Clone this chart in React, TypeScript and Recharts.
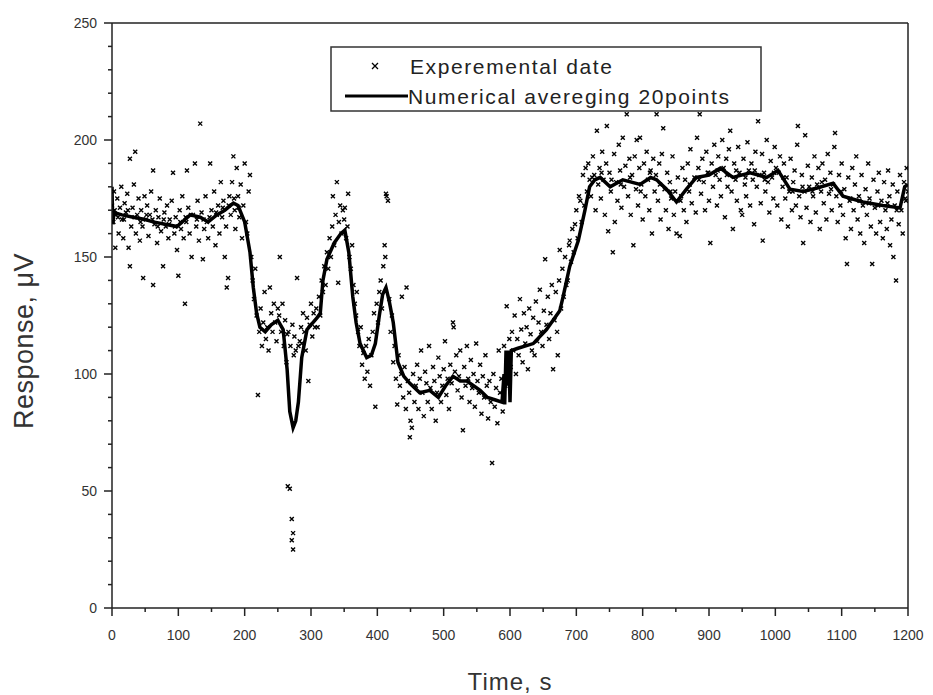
import React from "react";
import {
  ComposedChart,
  XAxis,
  YAxis,
  Scatter,
  Line,
  ReferenceLine,
  Legend,
} from "recharts";

// Experimental data: [time s, response µV]
const expSegment1: [number, number][] = [
  [0, 172], [2, 165], [3, 178], [5, 154], [6, 168], [8, 175], [10, 160], [12, 171], [14, 180], [15, 166],
  [17, 158], [19, 173], [21, 169], [23, 177], [25, 154], [27, 192], [27, 146], [29, 163], [31, 171], [33, 181],
  [35, 195], [36, 160], [38, 168], [40, 175], [42, 157], [44, 170], [46, 163], [47, 141], [49, 176], [51, 166],
  [53, 172], [55, 159], [57, 168], [59, 178], [62, 187], [62, 138], [64, 164], [66, 170], [68, 156], [70, 167],
  [72, 175], [74, 161], [77, 146], [79, 169], [81, 163], [83, 172], [85, 158], [87, 166], [90, 174], [92, 186],
  [94, 160], [96, 167], [98, 153], [100, 142], [102, 170], [104, 162], [106, 176], [108, 158], [110, 130], [112, 165],
  [113, 187], [115, 171], [117, 160], [120, 150], [122, 168], [125, 190], [127, 163], [129, 174], [131, 157], [133, 207],
  [135, 169], [137, 149], [139, 162], [141, 176], [143, 165], [145, 158], [148, 190], [150, 170], [152, 163], [154, 178],
  [156, 155], [158, 168], [160, 172], [162, 160], [164, 182], [166, 167], [168, 174], [170, 150], [172, 163], [173, 137],
  [175, 141], [177, 176], [179, 168], [181, 182], [183, 193], [185, 170], [186, 162], [188, 188], [190, 176], [192, 167],
  [194, 181], [196, 158], [198, 172], [200, 190], [202, 165], [204, 160], [206, 178], [208, 185], [210, 150], [212, 140],
  [4, 170], [9, 167], [18, 166], [24, 170], [34, 167], [43, 165], [52, 168], [61, 166], [69, 163], [78, 166],
  [86, 164], [95, 163], [103, 165], [111, 167], [119, 168], [128, 166], [138, 166], [147, 167], [157, 169], [167, 171],
  [176, 172], [184, 175], [191, 171],
];

const expSegment2: [number, number][] = [
  [214, 132], [216, 145], [218, 125], [220, 91], [222, 118], [224, 128], [226, 112], [228, 122], [230, 135], [232, 115],
  [234, 120], [236, 110], [238, 137], [240, 126], [242, 118], [244, 130], [246, 122], [248, 114], [250, 128], [252, 125],
  [253, 150], [255, 118], [257, 130], [259, 112], [261, 123], [263, 105], [264, 117], [265, 52], [266, 118], [268, 51],
  [269, 112], [271, 38], [271, 29], [272, 121], [273, 32], [273, 25], [274, 108], [275, 116], [277, 110], [279, 141],
  [281, 112], [283, 114], [285, 120], [286, 113], [288, 126], [290, 118], [292, 110], [294, 124], [296, 97], [298, 121],
  [300, 130], [302, 116], [304, 126], [306, 120],
];

const expSegment3: [number, number][] = [
  [308, 128], [310, 120], [312, 133], [314, 125], [316, 140], [318, 135], [320, 146], [322, 138], [324, 152], [326, 145],
  [328, 158], [330, 150], [332, 163], [333, 176], [335, 155], [337, 168], [339, 182], [341, 139], [342, 165], [344, 172],
  [346, 160], [348, 170], [350, 166], [351, 171], [353, 158], [355, 163], [356, 177], [358, 150], [360, 145], [362, 155],
  [364, 138], [366, 130], [368, 125], [369, 135], [371, 118], [373, 112], [375, 120], [377, 104], [379, 109], [381, 98],
  [383, 112], [385, 101], [387, 115], [389, 95], [391, 108], [393, 118], [395, 126], [397, 86], [399, 130], [401, 122],
  [403, 135], [405, 140], [407, 128], [409, 146], [411, 155], [412, 150], [413, 177], [414, 176], [416, 174], [418, 132],
  [420, 118], [422, 125], [424, 105], [426, 112], [428, 98], [430, 87], [432, 108], [434, 95], [436, 100], [437, 133],
  [439, 90], [441, 103], [443, 85], [444, 137], [446, 97], [448, 92], [449, 73], [450, 80], [452, 77],
];

const expSegment4: [number, number][] = [
  [454, 100], [456, 88], [458, 95], [460, 104], [462, 85], [464, 98], [466, 110], [468, 92], [470, 82], [472, 101],
  [474, 96], [476, 88], [478, 112], [480, 94], [482, 85], [484, 103], [486, 97], [488, 80], [490, 92], [492, 107],
  [494, 99], [496, 88], [498, 95], [500, 102], [502, 114], [504, 91], [506, 98], [508, 85], [510, 104], [512, 96],
  [514, 122], [515, 120], [517, 101], [519, 108], [521, 93], [523, 99], [525, 110], [527, 90], [529, 76], [531, 103],
  [533, 95], [535, 112], [537, 98], [539, 88], [541, 106], [543, 94], [545, 100], [547, 86], [549, 113], [551, 97],
  [553, 92], [555, 104], [557, 83], [559, 99], [561, 90], [563, 108], [565, 95], [567, 81], [569, 97], [571, 88],
  [573, 62], [575, 100], [577, 86], [579, 94], [581, 79], [583, 110], [585, 92], [587, 98], [589, 84], [591, 112],
  [593, 95], [595, 129], [597, 106], [599, 115],
];

const expSegment5: [number, number][] = [
  [601, 103], [603, 118], [605, 110], [607, 125], [609, 100], [611, 115], [613, 108], [615, 132], [617, 119], [619, 105],
  [621, 126], [623, 113], [625, 120], [627, 102], [629, 128], [631, 117], [633, 110], [635, 124], [637, 108], [639, 131],
  [641, 114], [643, 122], [645, 136], [647, 118], [649, 112], [651, 127], [653, 149], [655, 121], [657, 133], [659, 115],
  [661, 126], [663, 138], [665, 102], [667, 123], [669, 135], [671, 118], [672, 108], [674, 140], [675, 153], [677, 128],
  [679, 145], [681, 133], [683, 150], [685, 138], [687, 140], [689, 155], [690, 157], [692, 148], [694, 162], [696, 152],
  [698, 164], [700, 170], [702, 158], [704, 176], [706, 174], [708, 165], [710, 185], [712, 172], [714, 188], [716, 178],
  [718, 190], [720, 183],
];

const expSegment6: [number, number][] = [
  [722, 176], [725, 193], [727, 185], [729, 170], [731, 204], [733, 181], [735, 188], [737, 175], [739, 195], [741, 183],
  [743, 168], [745, 190], [746, 206], [748, 161], [750, 186], [752, 178], [755, 152], [757, 194], [758, 165], [760, 182],
  [762, 174], [764, 198], [766, 187], [768, 171], [770, 201], [772, 180], [774, 189], [776, 211], [778, 176], [780, 192],
  [782, 168], [784, 185], [786, 155], [788, 193], [790, 179], [791, 200], [793, 172], [795, 188], [796, 201], [798, 181],
  [800, 166], [802, 190], [804, 176], [806, 195], [808, 183], [810, 170], [812, 187], [814, 160], [816, 192], [818, 178],
  [820, 185], [821, 211], [823, 174], [825, 190], [827, 166], [829, 194], [831, 205], [833, 179], [835, 170], [837, 186],
  [839, 162], [841, 182], [843, 175], [845, 193], [847, 168], [849, 178], [851, 160], [853, 184], [856, 159], [858, 176],
  [860, 188], [862, 170], [864, 183], [866, 165], [868, 190], [870, 178], [872, 196], [874, 173], [876, 214], [878, 184],
  [880, 169], [882, 201], [884, 188], [886, 211], [888, 177], [890, 192], [892, 182], [894, 170], [896, 195], [898, 186],
  [900, 174], [902, 156], [904, 190], [906, 180], [908, 198], [910, 185], [912, 172], [914, 193], [916, 183], [918, 176],
  [920, 200], [922, 188], [924, 167], [926, 192], [928, 180], [930, 196], [932, 204], [934, 178], [936, 162], [938, 190],
  [940, 183], [942, 174], [944, 197], [946, 186], [948, 170], [950, 168], [952, 192], [954, 181], [956, 176], [958, 199],
  [960, 187], [962, 172], [964, 190], [966, 183], [968, 164], [970, 195], [972, 180], [974, 208], [976, 185], [978, 173],
  [980, 194], [981, 157], [983, 186], [985, 178], [987, 200], [989, 182], [991, 169], [993, 191], [995, 184], [997, 175],
  [999, 197], [1001, 188], [1003, 172], [1005, 186], [1007, 193], [1009, 166], [1011, 180], [1013, 190], [1015, 175], [1017, 184],
  [1019, 163], [1021, 178], [1023, 192], [1025, 170], [1027, 182], [1029, 187], [1031, 172], [1033, 198], [1034, 206], [1036, 176],
  [1038, 167], [1040, 185], [1042, 156], [1044, 178], [1045, 202], [1047, 171], [1049, 189], [1051, 180], [1053, 165], [1055, 184],
  [1057, 176], [1059, 193], [1061, 169], [1063, 181], [1065, 188], [1067, 162], [1069, 178], [1071, 190], [1073, 173], [1075, 183],
  [1077, 166], [1079, 194], [1081, 177], [1083, 186], [1085, 170], [1087, 181], [1089, 197], [1090, 203], [1092, 176], [1094, 165],
  [1096, 185], [1098, 172], [1100, 190], [1102, 168], [1104, 179], [1106, 158], [1108, 147], [1110, 184], [1112, 174], [1114, 162],
  [1116, 188], [1118, 170], [1120, 181], [1122, 193], [1124, 166], [1126, 176], [1128, 160], [1130, 185], [1132, 172], [1134, 156],
  [1136, 179], [1138, 168], [1140, 190], [1142, 175], [1144, 163], [1146, 147], [1148, 183], [1150, 171], [1152, 160], [1154, 178],
  [1156, 186], [1158, 165], [1160, 174], [1162, 158], [1164, 182], [1166, 170], [1168, 162], [1170, 187], [1172, 176], [1173, 155],
  [1175, 166], [1177, 181], [1178, 150], [1180, 172], [1182, 140], [1184, 178], [1186, 164], [1188, 185], [1190, 170], [1192, 160],
  [1194, 182], [1196, 175], [1198, 188], [1200, 178],
  [724, 184], [738, 186], [753, 183], [767, 181], [781, 184], [797, 178], [811, 186], [826, 181], [842, 178], [857, 174],
  [871, 181], [885, 183], [899, 186], [913, 187], [927, 185], [941, 187], [955, 184], [969, 187], [984, 183], [998, 186],
  [1012, 184], [1026, 178], [1041, 180], [1056, 178], [1070, 182], [1084, 179], [1099, 178], [1113, 175], [1127, 174], [1141, 173],
  [1155, 172], [1169, 173], [1183, 170], [1197, 174],
];

// Numerical averaging over 20 points: [time s, response µV]
const averaged: [number, number][] = [
  [0, 180], [1, 164], [3, 169], [15, 168], [32, 167], [50, 166], [62, 165], [80, 164], [98, 163], [110, 166],
  [118, 168], [133, 167], [145, 165], [158, 168], [170, 170], [183, 173], [190, 172], [200, 165], [208, 152], [213, 137],
  [218, 126], [223, 120], [231, 118], [240, 121], [250, 123], [258, 119], [264, 102], [268, 84], [273, 77], [277, 80],
  [281, 88], [286, 107], [294, 119], [300, 121], [309, 124], [314, 126], [318, 140], [324, 149], [335, 156], [345, 160],
  [351, 161.5], [357, 152], [363, 133], [368, 122], [374, 113], [384, 107], [391, 108], [397, 113], [403, 125], [408, 134],
  [413, 137], [418, 131], [424, 122], [431, 105], [440, 99], [449, 96], [464, 92], [479, 93], [492, 90], [503, 95],
  [514, 99], [525, 97], [535, 97], [545, 95], [555, 93], [566, 90], [577, 89], [588, 88], [591, 100], [592, 87],
  [594, 110], [596, 95], [598, 110], [600, 88], [602, 110], [612, 111], [635, 113], [655, 119], [670, 125], [675, 127],
  [680, 133], [690, 146], [703, 157], [713, 170], [720, 180], [728, 183], [736, 184], [751, 180], [770, 183], [796, 181],
  [812, 184], [821, 183], [836, 179], [851, 173.5], [866, 179], [881, 184], [900, 185], [917, 188], [936, 184], [962, 186],
  [987, 184], [1004, 187], [1022, 179], [1042, 178], [1063, 179.5], [1087, 181.5], [1102, 176], [1132, 173.5], [1162, 172], [1188, 171],
  [1195, 180], [1200, 181],
];

const xTicks = [0, 50, 100, 150, 200, 250, 300, 350, 400, 450, 500, 550, 600, 650, 700, 750, 800, 850, 900, 950, 1000, 1050, 1100, 1150, 1200];
const yTicks = [0, 10, 20, 30, 40, 50, 60, 70, 80, 90, 100, 110, 120, 130, 140, 150, 160, 170, 180, 190, 200, 210, 220, 230, 240, 250];

const expLabel = "Experemental date";
const avgLabel = "Numerical avereging 20points";
const xTitle = "Time, s";
const yTitle = "Response, \u03bcV";

const expData = [
  ...expSegment1,
  ...expSegment2,
  ...expSegment3,
  ...expSegment4,
  ...expSegment5,
  ...expSegment6,
].map(([t, v]) => ({ t, v }));
const avgData = averaged.map(([t, v]) => ({ t, v }));

const FONT = "Arial, 'Liberation Sans', sans-serif";
const AXIS = "#222";

const XTick = (props: any) => {
  const { x, y, payload } = props;
  const major = payload.value % 100 === 0;
  return (
    <g>
      <line x1={x} x2={x} y1={y} y2={y + (major ? 8 : 4)} stroke={AXIS} strokeWidth={1.5} />
      {major && (
        <text x={x} y={y + 32} textAnchor="middle" fontSize={14} fill="#333" fontFamily={FONT}>
          {payload.value}
        </text>
      )}
    </g>
  );
};

const YTick = (props: any) => {
  const { x, y, payload } = props;
  const major = payload.value % 50 === 0;
  return (
    <g>
      <line x1={x - (major ? 8 : 4)} x2={x} y1={y} y2={y} stroke={AXIS} strokeWidth={1.5} />
      {major && (
        <text x={x - 15} y={y + 5} textAnchor="end" fontSize={14} fill="#333" fontFamily={FONT}>
          {payload.value}
        </text>
      )}
    </g>
  );
};

const CrossShape = (props: any) => {
  const { cx, cy } = props;
  if (cx == null || cy == null) return null;
  const s = 2;
  return (
    <path
      d={`M${cx - s},${cy - s}L${cx + s},${cy + s}M${cx - s},${cy + s}L${cx + s},${cy - s}`}
      stroke="#000"
      strokeWidth={1.4}
      fill="none"
    />
  );
};

const LegendBox = () => (
  <svg width={432} height={66} style={{ display: "block" }}>
    <rect x={1} y={1} width={430} height={64} fill="#fff" stroke="#333" strokeWidth={1.5} />
    <path d="M42,17L48,23M42,23L48,17" stroke="#000" strokeWidth={1.3} />
    <text x={80} y={28} fontSize={21} letterSpacing={1.6} fill="#222" fontFamily={FONT}>
      {expLabel}
    </text>
    <line x1={15} x2={78} y1={50} y2={50} stroke="#000" strokeWidth={3} />
    <text x={78} y={58} fontSize={21} letterSpacing={1.6} fill="#222" fontFamily={FONT}>
      {avgLabel}
    </text>
  </svg>
);

export default function App() {
  return (
    <div style={{ position: "absolute", left: 0, top: 0, width: 933, height: 695, background: "#fff" }}>
      <ComposedChart
        width={933}
        height={695}
        margin={{ top: 23, right: 25, bottom: 57, left: 52 }}
      >
        <XAxis
          dataKey="t"
          type="number"
          domain={[0, 1200]}
          ticks={xTicks}
          interval={0}
          tickSize={0}
          tickMargin={0}
          tickLine={false}
          tick={<XTick />}
          axisLine={{ stroke: AXIS, strokeWidth: 1.5 }}
          height={30}
          allowDataOverflow
        />
        <YAxis
          type="number"
          domain={[0, 250]}
          ticks={yTicks}
          interval={0}
          tickSize={0}
          tickMargin={0}
          tickLine={false}
          tick={<YTick />}
          axisLine={{ stroke: AXIS, strokeWidth: 1.5 }}
          width={60}
          allowDataOverflow
        />
        <ReferenceLine y={250} stroke={AXIS} strokeWidth={1.5} />
        <ReferenceLine x={1200} stroke={AXIS} strokeWidth={1.5} />
        <Scatter
          name={expLabel}
          data={expData}
          dataKey="v"
          shape={<CrossShape />}
          isAnimationActive={false}
        />
        <Line
          name={avgLabel}
          data={avgData}
          dataKey="v"
          type="linear"
          stroke="#000"
          strokeWidth={3.5}
          dot={false}
          activeDot={false}
          isAnimationActive={false}
        />
        <Legend
          layout="vertical"
          align="center"
          verticalAlign="middle"
          content={<LegendBox />}
          wrapperStyle={{ position: "absolute", left: 330, top: 46, width: 432, height: 66 }}
        />
        <text
          x={510}
          y={690}
          textAnchor="middle"
          fontSize={24}
          letterSpacing={1}
          fill="#333"
          fontFamily={FONT}
        >
          {xTitle}
        </text>
        <text
          x={33}
          y={341}
          transform="rotate(-90 33 341)"
          textAnchor="middle"
          fontSize={27}
          letterSpacing={0.5}
          fill="#333"
          fontFamily={FONT}
        >
          {yTitle}
        </text>
      </ComposedChart>
    </div>
  );
}
